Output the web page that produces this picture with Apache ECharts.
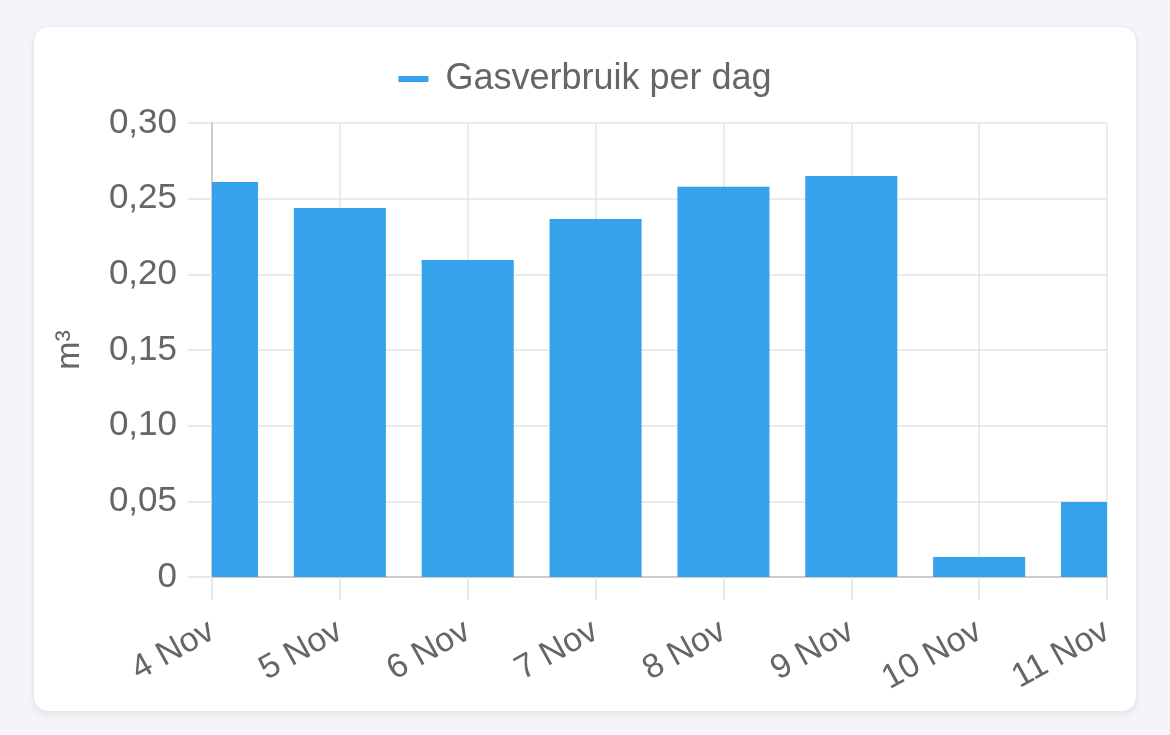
<!DOCTYPE html>
<html>
<head>
<meta charset="utf-8">
<script src="https://cdn.jsdelivr.net/npm/echarts@6/dist/echarts.min.js"></script>
<style>
  html, body { margin: 0; padding: 0; width: 1170px; height: 735px; background: #f4f4f9; overflow: hidden; }
  #card { position: absolute; left: 33px; top: 26px; width: 1104px; height: 686px; background: #fff;
          border-radius: 15px; border: 1px solid #e7e7ec; box-sizing: border-box;
          box-shadow: 0 3px 6px rgba(0,0,0,0.07); }
  #chart { position: absolute; left: 0; top: 0; width: 1170px; height: 735px; }
</style>
</head>
<body>
<div id="card"></div>
<div id="chart"></div>
<script>
const categories = ['4 Nov', '5 Nov', '6 Nov', '7 Nov', '8 Nov', '9 Nov', '10 Nov', '11 Nov'];
const gasPerDay = [0.261, 0.2438, 0.2095, 0.2366, 0.2578, 0.265, 0.0132, 0.0496];
const seriesName = 'Gasverbruik per dag';
const yAxisName = 'm³';

const font = '"Liberation Sans", Arial, Helvetica, sans-serif';
const textColor = '#666666';
const barColor = '#36a2eb';
const chart = echarts.init(document.getElementById('chart'), null, { renderer: 'canvas' });

function renderBar(params, api) {
  const idx = api.value(0);
  const val = api.value(1);
  const top = api.coord([idx, val]);
  const base = api.coord([idx, 0]);
  const band = api.size([1, 0])[0];
  const w = band * 0.72;
  const rect = echarts.graphic.clipRectByRect(
    { x: top[0] - w / 2, y: top[1], width: w, height: base[1] - top[1] },
    { x: params.coordSys.x, y: params.coordSys.y, width: params.coordSys.width, height: params.coordSys.height }
  );
  if (!rect) return null;
  return { type: 'rect', shape: rect, style: { fill: barColor } };
}

chart.setOption({
  backgroundColor: 'transparent',
  animation: false,
  legend: {
    top: 55,
    left: 'center',
    itemWidth: 30,
    itemHeight: 6,
    icon: 'rect',
    data: [{ name: seriesName, itemStyle: { color: barColor } }],
    textStyle: { color: textColor, fontSize: 36, fontFamily: font, padding: [0, 0, 0, 12], lineHeight: 38 }
  },
  grid: { left: 212, right: 63, top: 123, bottom: 158, containLabel: false },
  xAxis: {
    type: 'category',
    data: categories,
    boundaryGap: false,
    axisLine: { show: true, lineStyle: { color: '#cccccc', width: 2 } },
    axisTick: { show: true, length: 23, lineStyle: { color: '#e2e2e2', width: 1.5 } },
    splitLine: { show: true, lineStyle: { color: '#e5e5e5', width: 1.5 } },
    axisLabel: { color: textColor, fontSize: 34, fontFamily: font, rotate: 29, margin: 52, interval: 0 }
  },
  yAxis: {
    type: 'value',
    min: 0,
    max: 0.3,
    interval: 0.05,
    name: yAxisName,
    nameLocation: 'middle',
    nameRotate: 90,
    nameGap: 125,
    nameTextStyle: { color: textColor, fontSize: 34, fontFamily: font },
    axisLine: { show: true, lineStyle: { color: '#cccccc', width: 2 } },
    axisTick: { show: true, length: 24, lineStyle: { color: '#e2e2e2', width: 1.5 } },
    splitLine: { show: true, lineStyle: { color: '#e5e5e5', width: 1.5 } },
    axisLabel: {
      color: textColor, fontSize: 35, fontFamily: font, margin: 35,
      formatter: v => v === 0 ? '0' : v.toFixed(2).replace('.', ',')
    }
  },
  series: [{
    name: seriesName,
    type: 'custom',
    renderItem: renderBar,
    encode: { x: 0, y: 1 },
    itemStyle: { color: barColor },
    data: gasPerDay.map((v, i) => [i, v])
  }]
});
</script>
</body>
</html>
